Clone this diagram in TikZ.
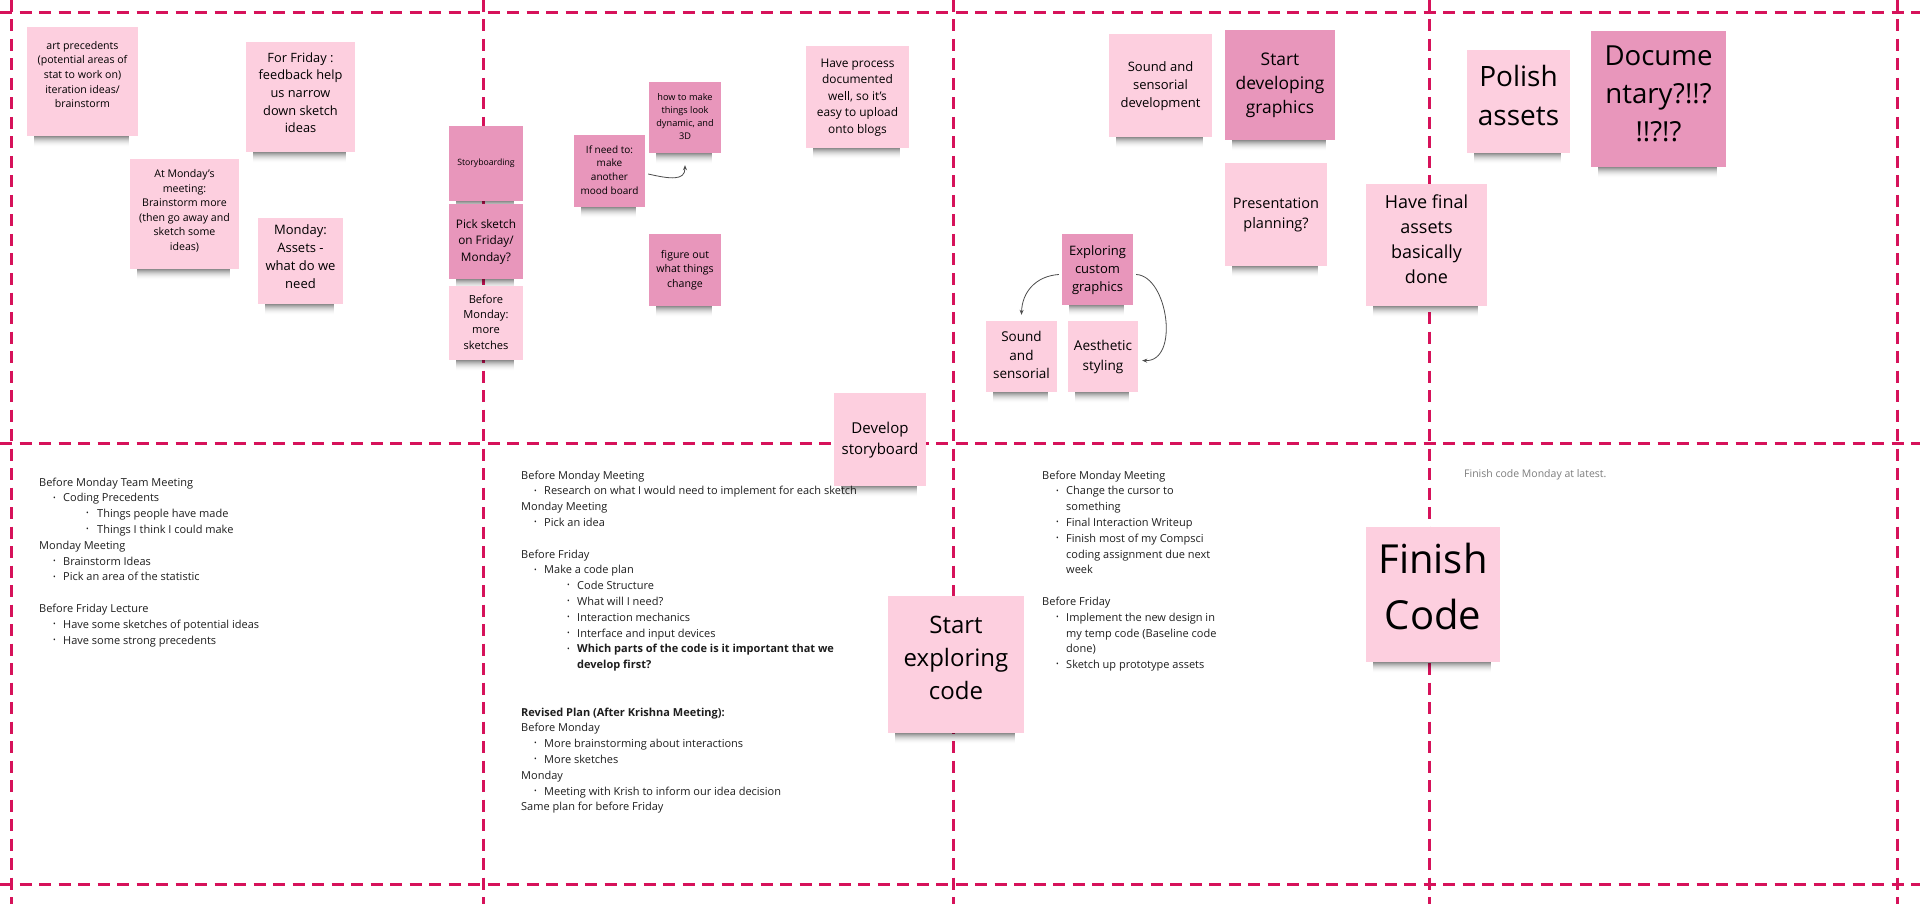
\documentclass[tikz,border=0pt]{standalone}
\usepackage{fontspec}
\setmainfont{Open Sans}
\usetikzlibrary{arrows.meta}
\definecolor{gridc}{RGB}{214,18,90}
\definecolor{lightnote}{RGB}{253,207,223}
\definecolor{darknote}{RGB}{232,150,187}
\definecolor{inktext}{RGB}{30,30,30}
\definecolor{graytext}{RGB}{125,125,125}
\tikzset{
  textnudge/.store in=\tnudge, textnudge=0pt,
  gridline/.style={draw=gridc, line width=3pt, dash pattern=on 12pt off 7.5pt},
  stnote/.style={inner sep=0pt, text=black},
  lightn/.style={stnote, fill=lightnote},
  darkn/.style={stnote, fill=darknote},
  tline/.style={anchor=base west, inner sep=0pt, text=inktext, font=\fontsize{11}{15.8}\selectfont},
  conn/.style={draw=black!70, line width=0.8pt, -{Stealth[length=5pt,width=4pt]}},
}
\newcommand\bul{\raisebox{0.3ex}{\scalebox{0.65}{•}}}
\newcommand\bA[1]{\makebox[10pt][l]{\bul}#1}
\newcommand\bB[1]{\makebox[11pt][l]{\bul}#1}
\newcommand\sticky[9]{%
  \foreach \i in {0,...,10}{\pgfmathsetmacro\shOp{0.45*(1-\i/11)^2}\fill[black,opacity=\shOp] ({#2+7},{#5+\i}) rectangle ({#4-9},{#5+\i+1});}
  \pgfmathsetmacro\stW{#4-#2}\pgfmathsetmacro\stH{#5-#3}
  \node[#6, minimum width=\stW pt, minimum height=\stH pt, font=\fontsize{#7}{#8}\selectfont] (#1) at ({(#2+#4)/2},{(#3+#5)/2}) {\raisebox{\tnudge}[\height][\depth]{\begin{tabular}{@{}c@{}}#9\end{tabular}}};
}
\newcommand\tl[4]{\node[tline] (#1) at (#2,#3) {#4};}
\begin{document}
\begin{tikzpicture}[x=1pt,y=-1pt]
\fill[white] (0,0) rectangle (1920,904);
\useasboundingbox (0,0) rectangle (1920,904);
% grid
\draw[gridline] (0,13) -- (1920,13);
\draw[gridline] (0,443) -- (1920,443);
\draw[gridline] (0,884) -- (1920,884);
\foreach \gx in {11,483,953,1429,1897}{\draw[gridline] (\gx,0) -- (\gx,904);}
% sticky notes
\sticky{art}{27}{27}{138}{136}{lightn,textnudge=6pt}{10.6}{14.7}{art precedents\\(potential areas of\\stat to work on)\\iteration ideas/\\brainstorm}
\sticky{friday}{246}{42}{355}{152}{lightn,textnudge=3pt}{12.8}{17.7}{For Friday :\\feedback help\\us narrow\\down sketch\\ideas}
\sticky{atmon}{130}{159}{239}{269}{lightn,textnudge=3pt}{10.6}{14.6}{At Monday's\\meeting:\\Brainstorm more\\(then go away and\\sketch some\\ideas)}
\sticky{assets}{258}{218}{343}{304}{lightn,textnudge=3pt}{13}{18}{Monday:\\Assets -\\what do we\\need}
\sticky{story}{449}{126}{523}{201}{darkn}{8.7}{12}{Storyboarding}
\sticky{pick}{449}{204}{523}{279}{darkn}{11.8}{16.3}{Pick sketch\\on Friday/\\Monday?}
\sticky{before}{449}{286}{523}{360}{lightn}{11.1}{15.3}{Before\\Monday:\\more\\sketches}
\sticky{mood}{574}{135}{645}{207}{darkn}{10}{13.8}{If need to:\\make\\another\\mood board}
\sticky{how}{649}{82}{721}{153}{darkn}{9.2}{12.7}{how to make\\things look\\dynamic, and\\3D}
\sticky{figure}{649}{234}{721}{306}{darkn}{10.6}{14.7}{figure out\\what things\\change}
\sticky{process}{806}{46}{909}{148}{lightn}{11.9}{16.4}{Have process\\documented\\well, so it's\\easy to upload\\onto blogs}
\sticky{develop}{834}{393}{926}{486}{lightn}{15}{20.8}{Develop\\storyboard}
\sticky{sounddev}{1109}{34}{1212}{137}{lightn}{13}{18}{Sound and\\sensorial\\development}
\sticky{startgfx}{1225}{30}{1335}{140}{darkn}{17.4}{24}{Start\\developing\\graphics}
\sticky{present}{1225}{163}{1327}{266}{lightn}{14.5}{20}{Presentation\\planning?}
\sticky{explore}{1062}{234}{1133}{305}{darkn}{13}{18}{Exploring\\custom\\graphics}
\sticky{sound}{986}{321}{1057}{392}{lightn}{13.5}{18.7}{Sound\\and\\sensorial}
\sticky{aesth}{1068}{321}{1138}{392}{lightn}{13.6}{19.3}{Aesthetic\\styling}
\sticky{final}{1366}{184}{1487}{306}{lightn,textnudge=4pt}{18}{25}{Have final\\assets\\basically\\done}
\sticky{polish}{1467}{50}{1570}{153}{lightn,textnudge=3pt}{28}{39}{Polish\\assets}
\sticky{docu}{1591}{31}{1726}{167}{darkn,textnudge=3pt}{27.6}{38}{Docume\\ntary?!!?\\!!?!?}
\sticky{explcode}{888}{596}{1024}{733}{lightn,textnudge=5pt}{24}{33}{Start\\exploring\\code}
\sticky{finish}{1366}{527}{1500}{662}{lightn,textnudge=4pt}{40}{56}{Finish\\Code}
% connectors
\draw[conn] ([shift={(3,3)}]mood.east) .. controls (670,179) and (685,181) .. ([shift={(0,12)}]how.south);
\draw[conn] ([shift={(-3,5)}]explore.west) .. controls (1036,276) and (1022,292) .. ([shift={(0,-6)}]sound.north);
\draw[conn] ([shift={(3,5)}]explore.east) .. controls (1168,276) and (1180,362) .. ([shift={(4,4)}]aesth.east);
% block A
\tl{a1}{39}{486}{Before Monday Team Meeting}
\tl{a2}{53}{501.8}{\bA{Coding Precedents}}
\tl{a3}{86}{517.6}{\bB{Things people have made}}
\tl{a4}{86}{533.4}{\bB{Things I think I could make}}
\tl{a5}{39}{549.2}{Monday Meeting}
\tl{a6}{53}{565}{\bA{Brainstorm Ideas}}
\tl{a7}{53}{580.8}{\bA{Pick an area of the statistic}}
\tl{a8}{39}{612.4}{Before Friday Lecture}
\tl{a9}{53}{628.2}{\bA{Have some sketches of potential ideas}}
\tl{a10}{53}{644}{\bA{Have some strong precedents}}
% block B
\tl{b1}{521}{479}{Before Monday Meeting}
\tl{b2}{534}{494.8}{\bA{Research on what I would need to implement for each sketch}}
\tl{b3}{521}{510.6}{Monday Meeting}
\tl{b4}{534}{526.4}{\bA{Pick an idea}}
\tl{b5}{521}{558}{Before Friday}
\tl{b6}{534}{573.8}{\bA{Make a code plan}}
\tl{b7}{567}{589.6}{\bA{Code Structure}}
\tl{b8}{567}{605.4}{\bA{What will I need?}}
\tl{b9}{567}{621.2}{\bA{Interaction mechanics}}
\tl{b10}{567}{637}{\bA{Interface and input devices}}
\tl{b11}{567}{652.8}{\bA{\textbf{Which parts of the code is it important that we}}}
\tl{b12}{577}{668.6}{\textbf{develop first?}}
\tl{b13}{521}{716}{\textbf{Revised Plan (After Krishna Meeting):}}
\tl{b14}{521}{731.8}{Before Monday}
\tl{b15}{534}{747.6}{\bA{More brainstorming about interactions}}
\tl{b16}{534}{763.4}{\bA{More sketches}}
\tl{b17}{521}{779.2}{Monday}
\tl{b18}{534}{795}{\bA{Meeting with Krish to inform our idea decision}}
\tl{b19}{521}{810.8}{Same plan for before Friday}
% block C
\tl{c1}{1042}{479}{Before Monday Meeting}
\tl{c2}{1056}{494.8}{\bA{Change the cursor to}}
\tl{c3}{1066}{510.6}{something}
\tl{c4}{1056}{526.4}{\bA{Final Interaction Writeup}}
\tl{c5}{1056}{542.2}{\bA{Finish most of my Compsci}}
\tl{c6}{1066}{558}{coding assignment due next}
\tl{c7}{1066}{573.8}{week}
\tl{c8}{1042}{605.4}{Before Friday}
\tl{c9}{1056}{621.2}{\bA{Implement the new design in}}
\tl{c10}{1066}{637}{my temp code (Baseline code}
\tl{c11}{1066}{652.8}{done)}
\tl{c12}{1056}{668.6}{\bA{Sketch up prototype assets}}
% block D
\node[tline, text=graytext, font=\fontsize{10.5}{14}\selectfont] (d1) at (1464,477) {Finish code Monday at latest.};
\end{tikzpicture}
\end{document}
